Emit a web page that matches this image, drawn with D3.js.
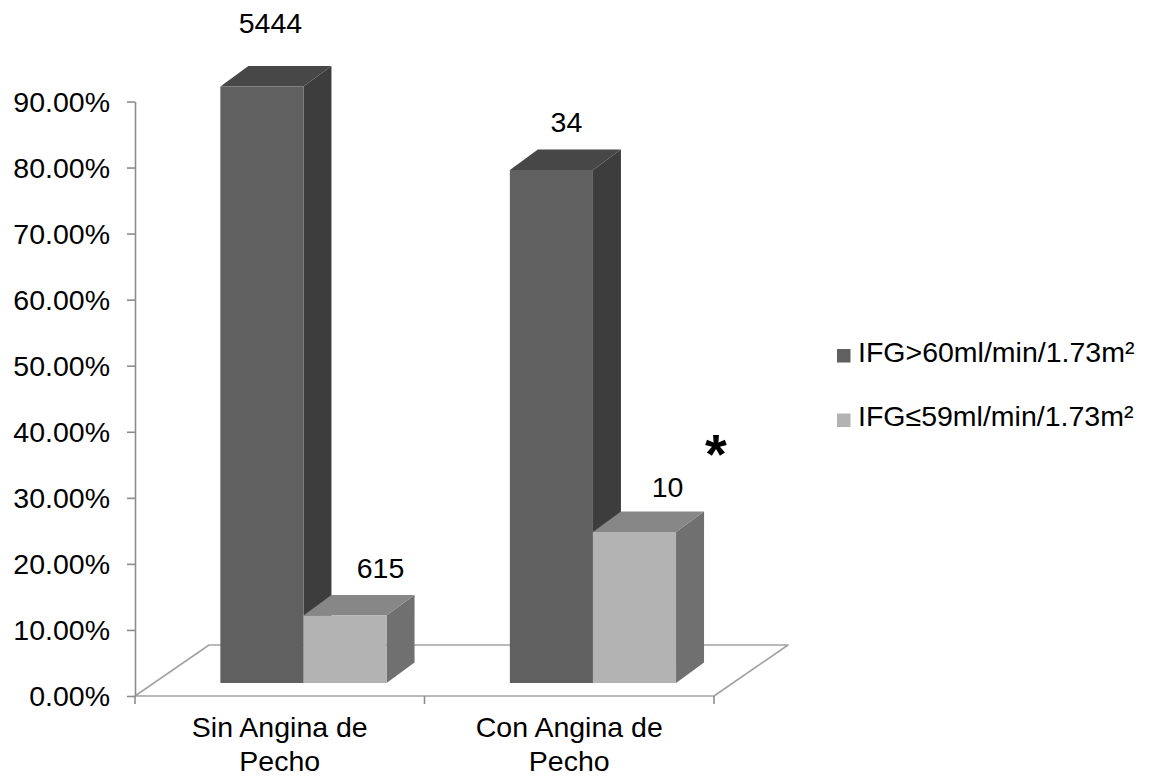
<!DOCTYPE html>
<html>
<head>
<meta charset="utf-8">
<script src="https://cdn.jsdelivr.net/npm/d3@7"></script>
<style>
  html, body { margin: 0; padding: 0; background: #fff; }
  svg { display: block; font-family: "Liberation Sans", Arial, sans-serif; }
</style>
</head>
<body>
<svg id="chart" width="1151" height="782"></svg>
<script>
// ---- data ----
const categories = ["Sin Angina de Pecho", "Con Angina de Pecho"];
const seriesNames = ["IFG>60ml/min/1.73m²", "IFG≤59ml/min/1.73m²"];
const pctHigh = [89.85, 77.27];   // % with IFG > 60
const pctLow = [10.15, 22.73];    // % with IFG ≤ 59
const countHigh = [5444, 34];
const countLow = [615, 10];
const yTicks = [0, 10, 20, 30, 40, 50, 60, 70, 80, 90];

// ---- styling / layout ----
const FONT = 28.5;
const palette = [
  { front: "#606060", top: "#474747", side: "#3d3d3d" },
  { front: "#b3b3b3", top: "#878787", side: "#707070" }
];
const floorDepth = { x: 74, y: -51 };   // projection of the full floor depth
const barDepth = { x: 28, y: -20.5 };   // projection of one column's depth
const barLift = 13;                      // column base sits behind the floor front edge
// label placement relative to each column's front-top centre
const labelNudge = [
  [{ dx: 8.5, dy: -53.7 }, { dx: 35.5, dy: -37.6 }],
  [{ dx: 15, dy: -38.3 }, { dx: 33, dy: -34.6 }]
];

const series = [
  { name: seriesNames[0], values: pctHigh, counts: countHigh },
  { name: seriesNames[1], values: pctLow, counts: countLow }
];

const svg = d3.select("#chart");

const x = d3.scaleBand().domain(categories).range([135, 714]).paddingInner(0).paddingOuter(0);
const y = d3.scaleLinear().domain([0, 90]).range([696, 101.5]);
// column heights on the depth plane of the bars
const yBar = d3.scaleLinear().domain([0, 90]).range([y(0) - barLift, y(0) - barLift - 597.6]);

const groupW = x.bandwidth() * 0.574;
const groupShift = 23.7;
const xs = d3.scaleBand().domain(d3.range(series.length)).range([0, groupW]).padding(0);

const poly = pts => "M" + pts.map(p => p.join(",")).join("L") + "Z";

// ---- floor ----
const fx0 = x.range()[0], fx1 = x.range()[1], fy = y(0);
svg.append("path")
  .attr("d", poly([[fx0, fy], [fx1, fy], [fx1 + floorDepth.x, fy + floorDepth.y], [fx0 + floorDepth.x, fy + floorDepth.y]]))
  .attr("fill", "#fff")
  .attr("stroke", "#a3a3a3")
  .attr("stroke-width", 1.6)
  .attr("stroke-linejoin", "round");

// ---- value axis ----
const yAxis = d3.axisLeft(y)
  .tickValues(yTicks)
  .tickFormat(d => d.toFixed(2) + "%")
  .tickSize(8)
  .tickSizeOuter(0)
  .tickPadding(17);
const gy = svg.append("g").attr("transform", `translate(${fx0},0)`).call(yAxis);
gy.select(".domain").attr("stroke", "#8c8c8c").attr("stroke-width", 1.6);
gy.selectAll(".tick line").attr("stroke", "#8c8c8c").attr("stroke-width", 1.6);
gy.selectAll(".tick text")
  .attr("fill", "#000")
  .style("font-size", FONT + "px")
  .style("font-family", "'Liberation Sans', Arial, sans-serif")
  .attr("dy", "0.35em");

// ---- category axis ticks (at band boundaries) ----
const boundaries = categories.map(c => x(c)).concat([fx1]);
svg.append("g").selectAll("line").data(boundaries).join("line")
  .attr("x1", d => d).attr("x2", d => d)
  .attr("y1", fy).attr("y2", fy + 8)
  .attr("stroke", "#8c8c8c").attr("stroke-width", 1.6);

// category labels wrapped onto two lines
const catLabels = svg.append("g").selectAll("text").data(categories).join("text")
  .attr("x", d => x(d) + x.bandwidth() / 2)
  .attr("y", 736.7)
  .attr("text-anchor", "middle")
  .attr("fill", "#000")
  .style("font-size", FONT + "px");
catLabels.each(function (d) {
  const words = d.split(" ");
  const lines = [words.slice(0, 3).join(" "), words.slice(3).join(" ")];
  const t = d3.select(this);
  lines.forEach((ln, i) => {
    t.append("tspan").attr("x", x(d) + x.bandwidth() / 2).attr("dy", i === 0 ? 0 : 34).text(ln);
  });
});

// ---- 3D columns ----
const gBars = svg.append("g");
categories.forEach((cat, ci) => {
  const left = x(cat) + x.bandwidth() / 2 + groupShift - groupW / 2;
  series.forEach((s, si) => {
    const x0 = left + xs(si), x1 = x0 + xs.bandwidth();
    const base = yBar(0), top = yBar(s.values[ci]);
    const dx = barDepth.x, dy = barDepth.y;
    const c = palette[si];
    const g = gBars.append("g");
    // right side face
    g.append("path").attr("d", poly([[x1, top], [x1 + dx, top + dy], [x1 + dx, base + dy], [x1, base]]))
      .attr("fill", c.side);
    // top face
    g.append("path").attr("d", poly([[x0, top], [x0 + dx, top + dy], [x1 + dx, top + dy], [x1, top]]))
      .attr("fill", c.top);
    // front face
    g.append("path").attr("d", poly([[x0, top], [x1, top], [x1, base], [x0, base]]))
      .attr("fill", c.front);
    // count label above column
    const nudge = labelNudge[ci][si];
    svg.append("text")
      .attr("x", (x0 + x1) / 2 + nudge.dx)
      .attr("y", top + nudge.dy)
      .attr("text-anchor", "middle")
      .attr("fill", "#000")
      .style("font-size", FONT + "px")
      .text(s.counts[ci]);
  });
});

// significance marker
svg.append("text")
  .attr("x", 716)
  .attr("y", 473)
  .attr("text-anchor", "middle")
  .attr("fill", "#000")
  .style("font-size", "56px")
  .style("font-weight", "bold")
  .text("*");

// ---- legend ----
const legend = svg.append("g").attr("transform", "translate(837,349)");
const li = legend.selectAll("g").data(series).join("g")
  .attr("transform", (d, i) => `translate(0,${i * 64.5})`);
li.append("rect").attr("width", 13.5).attr("height", 13.5)
  .attr("fill", (d, i) => palette[i].front);
li.append("text")
  .attr("x", 21)
  .attr("y", 12.7)
  .attr("fill", "#000")
  .style("font-size", FONT + "px")
  .text(d => d.name);
</script>
</body>
</html>
